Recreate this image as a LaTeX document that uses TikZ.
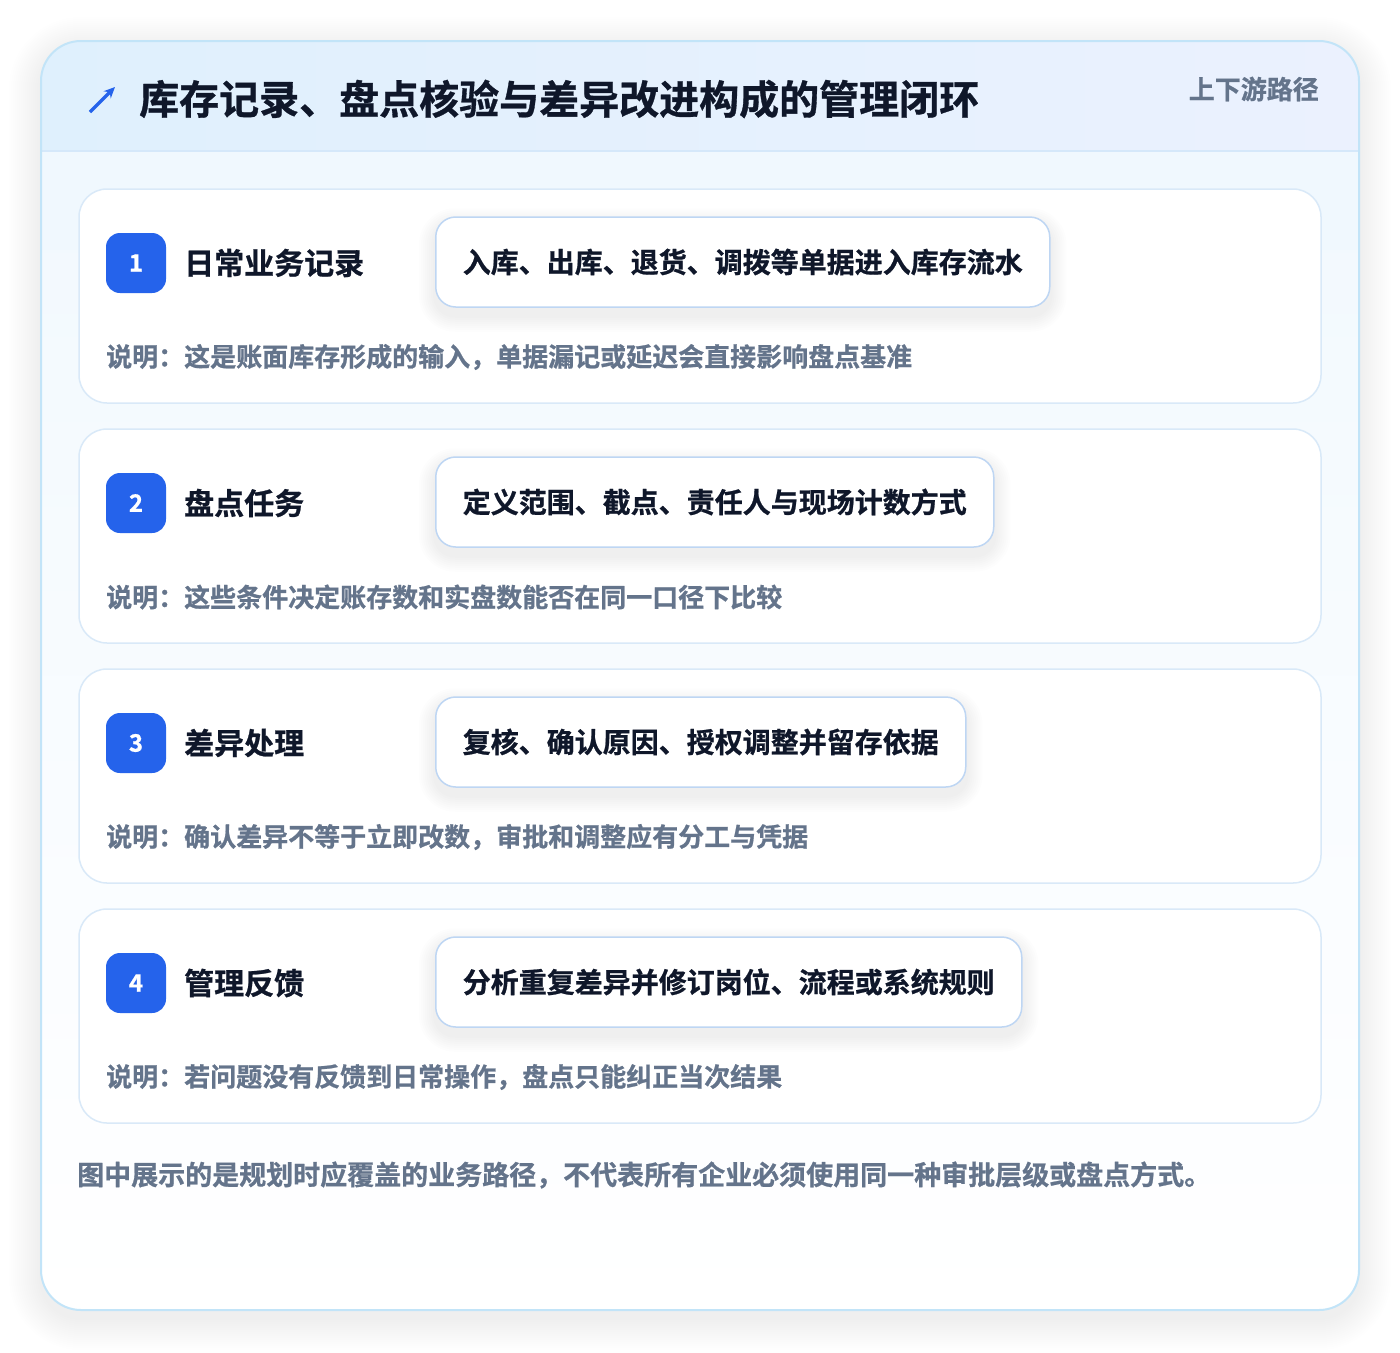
\documentclass[tikz,border=0pt]{standalone}
\usepackage{fontspec}
\setmainfont{Noto Sans CJK SC}[BoldFont={Noto Sans CJK SC Bold}, BoldFeatures={FakeBold=0.8}]
\usetikzlibrary{positioning,arrows.meta}

\definecolor{inkdark}{HTML}{0F172A}
\definecolor{inkmuted}{HTML}{64748B}
\definecolor{badgeblue}{HTML}{2563EB}
\definecolor{cardline}{HTML}{D9E9F8}
\definecolor{frameline}{HTML}{C2E4F8}
\definecolor{pillline}{HTML}{BED6F3}
\definecolor{headleft}{HTML}{DFF0FD}
\definecolor{headright}{HTML}{EBF1FE}
\definecolor{headrule}{HTML}{D5E8FA}
\definecolor{bodytop}{HTML}{F0F8FE}

\begin{document}
\begin{tikzpicture}[x=1pt, y=-1pt]
  \tikzset{
    card/.style={draw=cardline, line width=1.5pt, fill=white, rounded corners=28pt,
      minimum width=1242pt, minimum height=214pt, inner sep=0pt},
    badge/.style={fill=badgeblue, text=white, rounded corners=14pt, minimum size=60pt,
      inner sep=0pt, font=\bfseries\fontsize{24}{24}\selectfont},
    steptitle/.style={anchor=west, text=inkdark, inner sep=0pt,
      font=\bfseries\fontsize{30}{30}\selectfont},
    pill/.style={anchor=west, draw=pillline, line width=1.5pt, fill=white, rounded corners=20pt,
      minimum height=90pt, inner xsep=27pt, text=inkdark,
      font=\bfseries\fontsize{28}{28}\selectfont},
    remark/.style={anchor=west, text=inkmuted, inner sep=0pt,
      font=\bfseries\fontsize{26}{26}\selectfont},
    softshade/.style={fill=black, opacity=#1},
    iconarrow/.style={-{Stealth[length=11pt, width=10pt]}, badgeblue, line width=3.5pt},
  }

  \useasboundingbox (0,0) rectangle (1400,1352);
  \fill[white] (0,0) rectangle (1400,1352);

  % outer frame with a soft shadow
  \foreach \s in {2,4,...,32} {
    \pgfmathsetmacro\rr{40+\s}
    \fill[softshade=0.0045, rounded corners=\rr pt] (41-\s,49-\s) rectangle (1359+\s,1318+\s);
  }
  \path[rounded corners=40pt, top color=bodytop, bottom color=white]
    (41,41) rectangle (1359,1310);
  \begin{scope}
    \clip[rounded corners=40pt] (41,41) rectangle (1359,1310);
    \fill[left color=headleft, right color=headright] (41,41) rectangle (1359,151);
    \fill[bodytop] (41,151) rectangle (1359,250);
  \end{scope}
  \draw[headrule, line width=1.5pt] (41,151) -- (1359,151);
  \draw[frameline, line width=2pt, rounded corners=40pt] (41,41) rectangle (1359,1310);

  % header
  \coordinate (icontail) at (90,112);
  \coordinate (iconhead) at (115,87);
  \draw[iconarrow] (icontail) -- (iconhead);
  \node[anchor=west, text=inkdark, inner sep=0pt, font=\bfseries\fontsize{40}{40}\selectfont]
    (title) at (139,99) {库存记录、盘点核验与差异改进构成的管理闭环};
  \node[anchor=east, text=inkmuted, inner sep=0pt, font=\bfseries\fontsize{26}{26}\selectfont]
    (tag) at (1319,89) {上下游路径};

  % steps
  \foreach \num/\name/\action/\note [count=\k from 0] in {
    1/日常业务记录/入库、出库、退货、调拨等单据进入库存流水/说明：这是账面库存形成的输入，单据漏记或延迟会直接影响盘点基准,
    2/盘点任务/定义范围、截点、责任人与现场计数方式/说明：这些条件决定账存数和实盘数能否在同一口径下比较,
    3/差异处理/复核、确认原因、授权调整并留存依据/说明：确认差异不等于立即改数，审批和调整应有分工与凭据,
    4/管理反馈/分析重复差异并修订岗位、流程或系统规则/说明：若问题没有反馈到日常操作，盘点只能纠正当次结果} {
    \pgfmathsetmacro\yy{240*\k}
    \node[card] (card\num) at (700,296+\yy) {};
    \node[badge] (badge\num) at (136,263+\yy) {\num};
    \node[steptitle] (name\num) at (184,263+\yy) {\name};
    % pill shadow first, then the pill on top
    \node[pill, opacity=0, text opacity=0] (ghost\num) at (435,262+\yy) {\action};
    \foreach \s in {2,4,...,16} {
      \pgfmathsetmacro\rr{20+\s}
      \fill[softshade=0.006, rounded corners=\rr pt]
        ([xshift=-\s pt, yshift=\s pt-8pt]ghost\num.north west)
        rectangle ([xshift=\s pt, yshift=-\s pt-8pt]ghost\num.south east);
    }
    \node[pill] (pill\num) at (435,262+\yy) {\action};
    \node[remark] (note\num) at (106,357+\yy) {\note};
  }

  % footer
  \node[anchor=west, text=inkmuted, inner sep=0pt, font=\bfseries\fontsize{27}{27}\selectfont]
    (footer) at (77,1175) {图中展示的是规划时应覆盖的业务路径，不代表所有企业必须使用同一种审批层级或盘点方式。};
\end{tikzpicture}
\end{document}
